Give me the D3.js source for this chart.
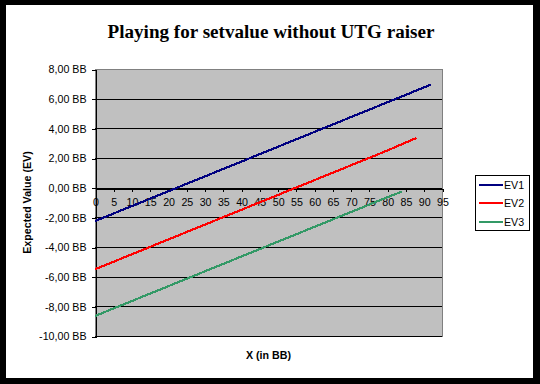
<!DOCTYPE html>
<html>
<head>
<meta charset="utf-8">
<script src="https://cdn.jsdelivr.net/npm/d3@7"></script>
<style>
    body { margin: 0; padding: 0; background: #000; }
    svg { display: block; }
</style>
</head>
<body>
<svg id="chart"></svg>
<script>
// values
var seriesNames = ['EV1', 'EV2', 'EV3'];
var seriesColors = ['#000080', '#ff0000', '#339966'];

var ev1X = [0, 20, 40, 60, 80, 92];
var ev1Y = [-2.25, -0.25, 1.75, 3.75, 5.75, 6.95];

var ev2X = [0, 20, 40, 60, 80, 88];
var ev2Y = [-5.5, -3.5, -1.5, 0.5, 2.5, 3.35];

var ev3X = [0, 20, 40, 60, 80, 84];
var ev3Y = [-8.65, -6.65, -4.65, -2.65, -0.65, -0.27];

var xTicks = [0, 5, 10, 15, 20, 25, 30, 35, 40, 45, 50, 55, 60, 65, 70, 75, 80, 85, 90, 95];
var yTicks = [8, 6, 4, 2, 0, -2, -4, -6, -8, -10];

var titleText = 'Playing for setvalue without UTG raiser';
var xTitle = 'X (in BB)';
var yTitle = 'Expected Value (EV)';

function drawChart() {
    var totalWidth = 540;
    var totalHeight = 384;

    var plot = { left: 95, right: 442, top: 69, bottom: 336 };

    var svg = d3.select('#chart')
        .attr('width', totalWidth)
        .attr('height', totalHeight)
        .style('font-family', '"Liberation Sans", Arial, sans-serif');

    // black frame with white chart area
    svg.append('rect')
        .attr('x', 0).attr('y', 0)
        .attr('width', totalWidth).attr('height', totalHeight)
        .attr('fill', '#000');
    svg.append('rect')
        .attr('x', 6).attr('y', 5)
        .attr('width', 527).attr('height', 373)
        .attr('fill', '#fff');

    var x = d3.scaleLinear().domain([0, 95]).range([plot.left, plot.right]);
    var y = d3.scaleLinear().domain([-10, 8]).range([plot.bottom, plot.top]);

    // plot area
    svg.append('rect')
        .attr('x', plot.left).attr('y', plot.top)
        .attr('width', plot.right - plot.left)
        .attr('height', plot.bottom - plot.top)
        .attr('fill', '#c0c0c0')
        .attr('stroke', '#808080')
        .attr('stroke-width', 1)
        .attr('shape-rendering', 'crispEdges');

    // gridlines
    svg.append('g')
        .selectAll('line')
        .data(yTicks.filter(function (d) { return d != 8; }))
        .enter()
        .append('line')
        .attr('x1', plot.left)
        .attr('x2', plot.right)
        .attr('y1', function (d) { return Math.round(y(d)) + 0.5; })
        .attr('y2', function (d) { return Math.round(y(d)) + 0.5; })
        .attr('stroke', '#000')
        .attr('shape-rendering', 'crispEdges');

    // y axis
    var yAxis = svg.append('g')
        .attr('transform', 'translate(' + (plot.left + 0.5) + ',0.5)')
        .call(d3.axisLeft(y)
            .tickValues(yTicks)
            .tickSize(4)
            .tickPadding(5)
            .tickFormat(function (d) { return d3.format('.2f')(d).replace('.', ',').replace('−', '-') + ' BB'; }));
    yAxis.select('.domain').attr('stroke', '#000').attr('shape-rendering', 'crispEdges');
    yAxis.selectAll('.tick line').attr('shape-rendering', 'crispEdges');
    yAxis.selectAll('text')
        .attr('font-size', '10.67px')
        .attr('font-family', '"Liberation Sans", Arial, sans-serif')
        .attr('fill', '#000');

    // x axis crossing at zero
    var xAxis = svg.append('g')
        .attr('transform', 'translate(0.5,' + (Math.round(y(0)) + 0.5) + ')')
        .call(d3.axisBottom(x)
            .tickValues(xTicks)
            .tickSize(3)
            .tickSizeOuter(0)
            .tickPadding(7));
    xAxis.select('.domain').attr('stroke', '#000').attr('shape-rendering', 'crispEdges');
    xAxis.selectAll('.tick line').attr('shape-rendering', 'crispEdges');
    xAxis.selectAll('text')
        .attr('font-size', '10.67px')
        .attr('font-family', '"Liberation Sans", Arial, sans-serif')
        .attr('fill', '#000');

    // series
    var seriesData = [
        d3.zip(ev1X, ev1Y),
        d3.zip(ev2X, ev2Y),
        d3.zip(ev3X, ev3Y)
    ];

    var line = d3.line()
        .x(function (d) { return x(d[0]); })
        .y(function (d) { return y(d[1]); });

    svg.append('g')
        .selectAll('path')
        .data(seriesData)
        .enter()
        .append('path')
        .attr('d', line)
        .attr('fill', 'none')
        .attr('stroke', function (d, i) { return seriesColors[i]; })
        .attr('stroke-width', 2.2)
        .attr('shape-rendering', 'crispEdges');

    // titles
    svg.append('text')
        .attr('x', 271)
        .attr('y', 38)
        .attr('text-anchor', 'middle')
        .attr('font-family', '"Liberation Serif", "Times New Roman", serif')
        .attr('font-weight', 'bold')
        .attr('font-size', '19.1px')
        .text(titleText);

    svg.append('text')
        .attr('x', (plot.left + plot.right) / 2)
        .attr('y', 359)
        .attr('text-anchor', 'middle')
        .attr('font-weight', 'bold')
        .attr('font-size', '10.67px')
        .text(xTitle);

    svg.append('text')
        .attr('transform', 'translate(31,' + ((plot.top + plot.bottom) / 2) + ') rotate(-90)')
        .attr('text-anchor', 'middle')
        .attr('font-weight', 'bold')
        .attr('font-size', '10.67px')
        .text(yTitle);

    // legend
    var legend = svg.append('g')
        .attr('transform', 'translate(475,175)');
    legend.append('rect')
        .attr('x', 0.5).attr('y', 0.5)
        .attr('width', 54).attr('height', 55)
        .attr('fill', '#fff')
        .attr('stroke', '#000')
        .attr('shape-rendering', 'crispEdges');

    var items = legend.selectAll('.item')
        .data(seriesNames)
        .enter()
        .append('g')
        .attr('class', 'item')
        .attr('transform', function (d, i) { return 'translate(0,' + (9.5 + i * 18.5) + ')'; });
    items.append('line')
        .attr('x1', 4).attr('x2', 28)
        .attr('y1', 0).attr('y2', 0)
        .attr('stroke', function (d, i) { return seriesColors[i]; })
        .attr('stroke-width', 2)
        .attr('shape-rendering', 'crispEdges');
    items.append('text')
        .attr('x', 29)
        .attr('y', 4)
        .attr('font-size', '10.67px')
        .text(function (d) { return d; });
}

drawChart();
</script>
</body>
</html>
